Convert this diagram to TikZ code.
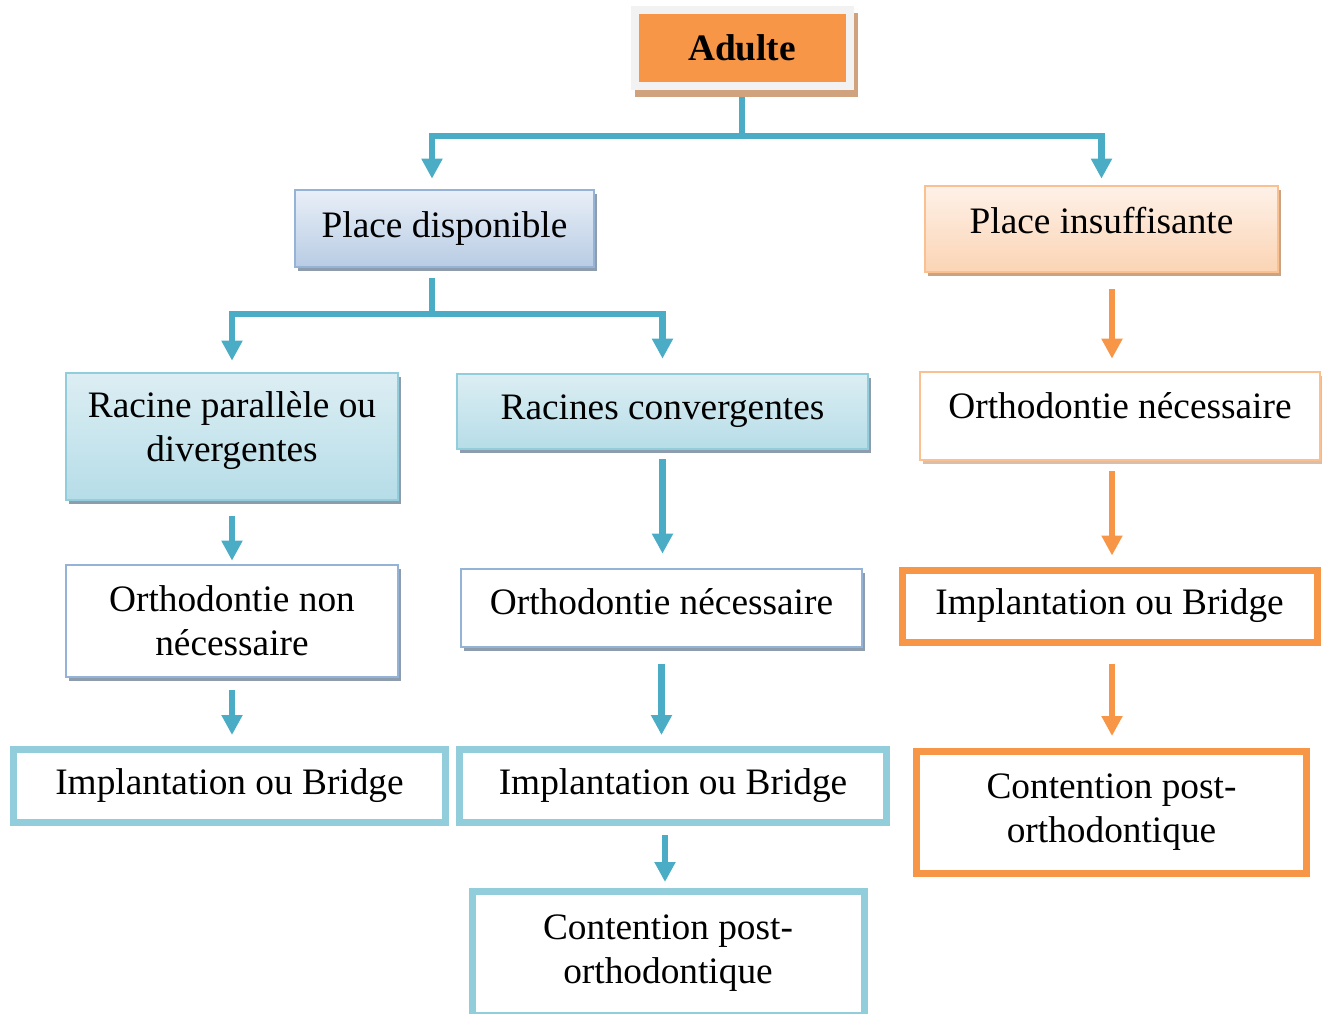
\documentclass[tikz,border=0pt]{standalone}
\usepackage{fontspec}
\setmainfont{Liberation Serif}
\usepackage{xcolor}
\usetikzlibrary{arrows.meta, positioning, shadows, calc}

\definecolor{linkblue}{HTML}{4BACC6}
\definecolor{orangeA}{HTML}{F79646}
\definecolor{framegray}{HTML}{F2F2F2}
\definecolor{brownshadow}{HTML}{D0A37E}
\definecolor{blueborder}{HTML}{95B3D7}
\definecolor{bluetop}{HTML}{E9EFF7}
\definecolor{bluebottom}{HTML}{B8CCE4}
\definecolor{grayshadow}{HTML}{8E9DAE}
\definecolor{cyanborder}{HTML}{92CDDC}
\definecolor{cyantop}{HTML}{DCEEF3}
\definecolor{cyanmid}{HTML}{EEF7FA}
\definecolor{cyanbottom}{HTML}{B6DDE8}
\definecolor{peachborder}{HTML}{FAC090}
\definecolor{peachtop}{HTML}{FEF1E8}
\definecolor{peachbottom}{HTML}{FBD4B4}
\definecolor{peachshadow}{HTML}{CBA282}

\begin{document}
\begin{tikzpicture}[
    x=0.75pt, y=-0.75pt,
    font=\fontsize{28}{33}\selectfont,
    boxsize/.style 2 args={minimum width=#1*0.75pt, minimum height=#2*0.75pt},
    base/.style={rectangle, align=center, inner sep=0pt},
    topblock/.style={base, draw=framegray, line width=6pt, fill=orangeA, font=\fontsize{28}{33}\selectfont\bfseries,
        drop shadow={shadow xshift=3pt, shadow yshift=-5pt, fill=brownshadow, draw=brownshadow, line width=6pt, opacity=1}},
    blueblock/.style={base, draw=blueborder, line width=2pt, top color=bluetop, bottom color=bluebottom,
        drop shadow={shadow xshift=2.25pt, shadow yshift=-3pt, fill=grayshadow, opacity=1}},
    cyanblock/.style={base, draw=cyanborder, line width=2pt, top color=cyantop, middle color=cyanmid, bottom color=cyanbottom,
        drop shadow={shadow xshift=2.25pt, shadow yshift=-3pt, fill=grayshadow, opacity=1}},
    peachblock/.style={base, draw=peachborder, line width=2pt, top color=peachtop, bottom color=peachbottom,
        drop shadow={shadow xshift=2.25pt, shadow yshift=-3pt, fill=peachshadow, opacity=1}},
    whiteblock/.style={base, draw=blueborder, line width=2pt, fill=white,
        drop shadow={shadow xshift=2.25pt, shadow yshift=-3pt, fill=grayshadow, opacity=1}},
    whitepeach/.style={base, draw=peachborder, line width=2pt, fill=white,
        drop shadow={shadow xshift=2.25pt, shadow yshift=-3pt, fill=peachshadow!70, opacity=1}},
    cyanframe/.style={base, draw=cyanborder, line width=5.25pt, fill=white},
    orangeframe/.style={base, draw=orangeA, line width=5.25pt, fill=white},
    bline/.style={draw=linkblue, line width=5pt},
    barrow/.style={draw=linkblue, line width=5pt, -{Triangle[width=15pt, length=15pt]}},
    oarrow/.style={draw=orangeA, line width=5pt, -{Triangle[width=15pt, length=15pt]}}
]
    \useasboundingbox (0,0) rectangle (1322,1014);
    \clip (0,0) rectangle (1322,1014);

    % Nodes
    \node[topblock, boxsize={215}{76}] (adulte) at (742,48) {Adulte};
    \node[blueblock, boxsize={299}{77}] (dispo) at (444.5,228.5) {Place disponible};
    \node[peachblock, boxsize={353}{86}, text depth=13.5pt] (insuf) at (1101.5,229) {Place insuffisante};

    \node[cyanblock, boxsize={332}{127}, text depth=15pt] (racine) at (232,436.5) {Racine parallèle ou\\divergentes};
    \node[cyanblock, boxsize={411}{75}] (conv) at (662.5,411.5) {Racines convergentes};
    \node[whitepeach, boxsize={400}{88}, text depth=15pt] (orthR) at (1120,416) {Orthodontie nécessaire};

    \node[whiteblock, boxsize={332}{112}] (orthNon) at (232,621) {Orthodontie non\\nécessaire};
    \node[whiteblock, boxsize={401}{78}, text depth=9pt] (orthM) at (661.5,608) {Orthodontie nécessaire};
    \node[orangeframe, boxsize={415}{72}] (implR) at (1109.5,606) {Implantation ou Bridge};

    \node[cyanframe, boxsize={432}{73}] (implL) at (229.5,786) {Implantation ou Bridge};
    \node[cyanframe, boxsize={427}{73}] (implM) at (673,786) {Implantation ou Bridge};
    \node[orangeframe, boxsize={390}{122}] (contR) at (1111.5,812.5) {Contention post-\\orthodontique};
    \node[cyanframe, boxsize={392}{124}] (contM) at (668,953.5) {Contention post-\\orthodontique};

    % Arrows
    \coordinate (forkA) at (742,136);
    \draw[bline, shorten <=5.25pt] (adulte.south) -- (forkA);
    \draw[barrow, shorten >=7.5pt] (forkA) -| ($(dispo.north)+(-12.5,0)$);
    \draw[barrow, shorten >=4.5pt] (forkA) -| (insuf.north);

    \coordinate (forkB) at (432,314);
    \draw[bline, shorten <=7.5pt] ($(dispo.south)+(-12.5,0)$) -- (forkB);
    \draw[barrow, shorten >=8.25pt] (forkB) -| (racine.north);
    \draw[barrow, shorten >=10.5pt] (forkB) -| (conv.north);

    \draw[barrow, shorten <=11.25pt, shorten >=2.25pt] (racine.south) -- (orthNon.north);
    \draw[barrow, shorten <=9pt, shorten >=8.25pt] (orthNon.south) -- (orthNon.south |- implL.north);
    \draw[barrow, shorten <=6.75pt, shorten >=10.5pt] (conv.south) -- (conv.south |- orthM.north);
    \draw[barrow, shorten <=12pt, shorten >=8.25pt] (orthM.south) -- (orthM.south |- implM.north);
    \draw[barrow, shorten <=6.75pt, shorten >=4.5pt] ($(implM.south)+(-8,0)$) -- ($(contM.north)+(-3,0)$);

    \draw[oarrow, shorten <=12pt, shorten >=9pt] ($(insuf.south)+(10.5,0)$) -- ($(orthR.north)+(-8,0)$);
    \draw[oarrow, shorten <=7.5pt, shorten >=8.25pt] ($(orthR.south)+(-8,0)$) -- ($(implR.north)+(2.5,0)$);
    \draw[oarrow, shorten <=13.5pt, shorten >=9pt] ($(implR.south)+(2.5,0)$) -- ($(contR.north)+(0.5,0)$);
\end{tikzpicture}
\end{document}
